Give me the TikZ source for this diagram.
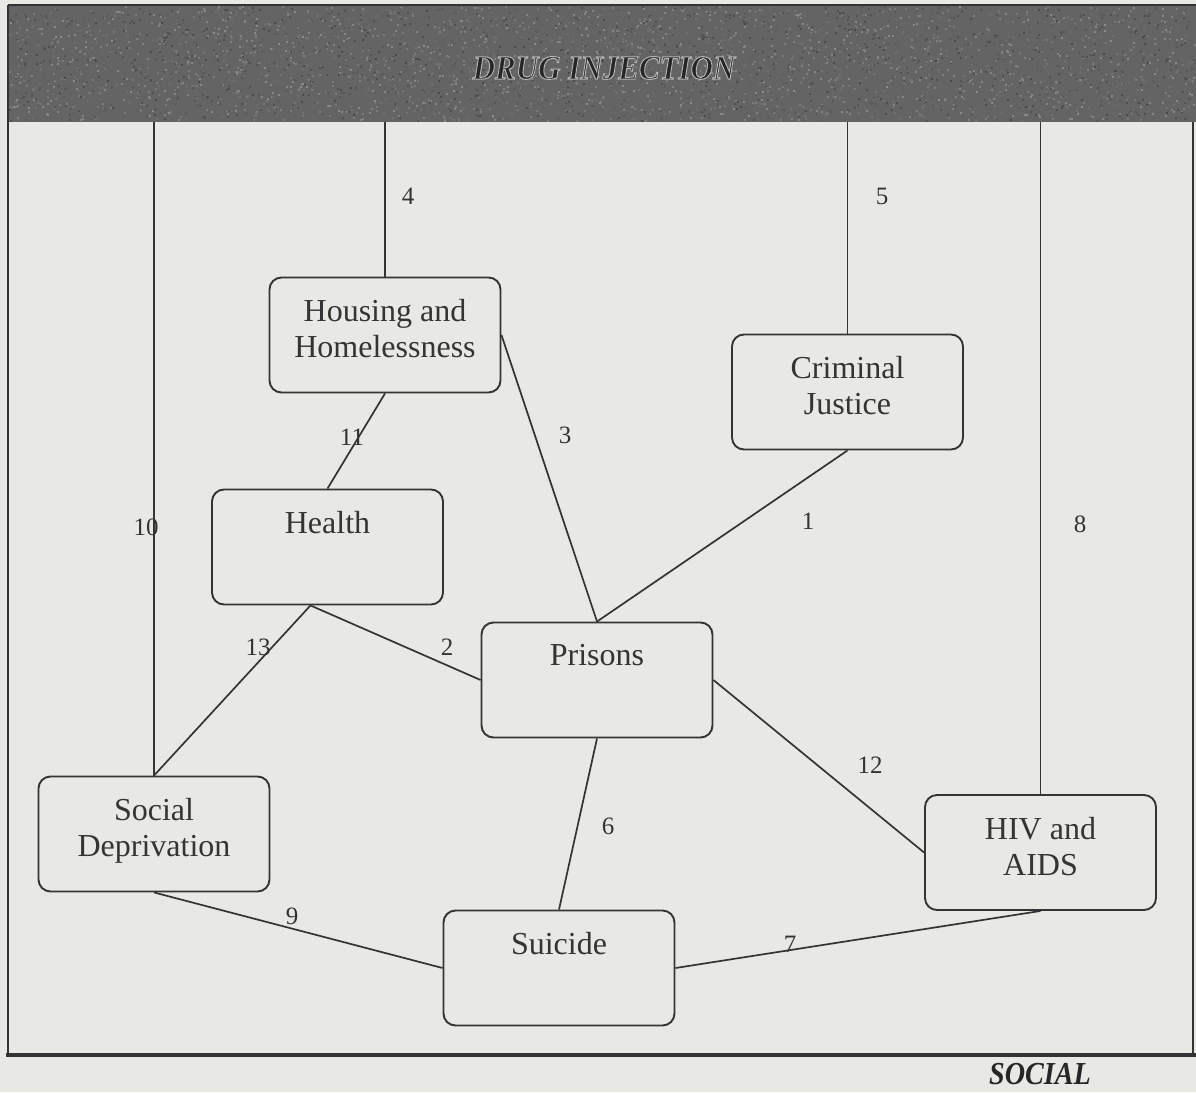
\documentclass[tikz,border=0pt]{standalone}
\usepackage{fontspec}
\setmainfont{Liberation Serif}
\usetikzlibrary{positioning}
\definecolor{paper}{RGB}{232,232,229}
\definecolor{ink}{RGB}{52,52,52}
\definecolor{band}{RGB}{100,100,100}
\newcommand{\haloed}[1]{\special{pdf:code q 2 Tr 0.9 w 0.72 G}#1\special{pdf:code Q}}
\begin{document}
\begin{tikzpicture}[
			x = 1pt, y = -1pt,
			box/.style={draw=ink, line width=1.9pt, rounded corners=12pt, minimum width=231pt, minimum height=115pt, inner sep=0pt},
			boxtext/.style={inner sep=0pt, align=center, text=ink, font=\fontsize{32}{36}\selectfont},
			lbl/.style={inner sep=0pt, text=ink, font=\fontsize{25}{28}\selectfont},
			link/.style={draw=ink, line width=1.7pt},
			title/.style={inner sep=0pt, font=\fontsize{31}{31}\selectfont\bfseries\itshape}
			]

			\useasboundingbox[fill=paper] (0,0) rectangle (1196,1092);

			% header band with scan grain
			\fill[band] (8,5) rectangle (1196,122);
			\pgfmathsetseed{11}
			\foreach \i in {1,...,4000}{
				\pgfmathsetmacro\nx{8+1186*rnd}
				\pgfmathsetmacro\ny{6+114*rnd}
				\pgfmathtruncatemacro\ng{46+26*rnd}
				\fill[black!\ng] (\nx,\ny) rectangle ++(2,2);
			}
			\draw[ink, line width=2pt] (8,5) -- (1196,5);
			\node[title, text=black!85, yscale=1.1] (title) at (604,68) {\haloed{DRUG INJECTION}};

			% frame
			\draw[ink, line width=1.6pt] (8,5) -- (8,1055);
			\draw[ink, line width=1.6pt] (1193,122) -- (1193,1055);
			\draw[ink, line width=3.5pt] (6,1055) -- (1196,1055);
			\node[title, text=black!85, font=\fontsize{32}{32}\selectfont\bfseries\itshape, xscale=0.88] (social) at (1040,1074) {SOCIAL};

			% boxes
			\node[box] (housing) at (385,335) {};
			\node[box] (cj) at (847.5,392) {};
			\node[box] (health) at (327.5,547) {};
			\node[box] (prisons) at (597,680) {};
			\node[box] (sd) at (154,834) {};
			\node[box] (hiv) at (1040.5,852.5) {};
			\node[box] (suicide) at (559,968) {};

			\node[boxtext, below=23pt of housing.north] (housingtxt) {Housing and\\Homelessness};
			\node[boxtext, below=23pt of cj.north] (cjtxt) {Criminal\\Justice};
			\node[boxtext, below=23pt of health.north] (healthtxt) {Health};
			\node[boxtext, below=23pt of prisons.north] (prisonstxt) {Prisons};
			\node[boxtext, below=23pt of sd.north] (sdtxt) {Social\\Deprivation};
			\node[boxtext, below=23pt of hiv.north] (hivtxt) {HIV and\\AIDS};
			\node[boxtext, below=23pt of suicide.north] (suicidetxt) {Suicide};

			% drops from the header
			\coordinate (d10) at (154,122);
			\coordinate (d4) at (385,122);
			\coordinate (d5) at (847.5,122);
			\coordinate (d8) at (1040.5,122);
			\coordinate (hfoot) at ([xshift=-17pt]health.south);

			\draw[link] (d4) -- (housing.north) node[lbl] (l4) at (408,196) {4};
			\draw[link] (d5) -- (cj.north) node[lbl] (l5) at (882,196) {5};
			\draw[link] (d10) -- (sd.north) node[lbl] (l10) at (146,527) {10};
			\draw[link] (d8) -- (hiv.north) node[lbl] (l8) at (1080,524) {8};

			\draw[link] (housing.south) -- (health.north) node[lbl] (l11) at (352,437) {11};
			\draw[link] (housing.east) -- (prisons.north) node[lbl] (l3) at (565,435) {3};
			\draw[link] (cj.south) -- (prisons.north) node[lbl] (l1) at (808,521) {1};
			\draw[link] (hfoot) -- (prisons.west) node[lbl] (l2) at (447,647) {2};
			\draw[link] (hfoot) -- (sd.north) node[lbl] (l13) at (258,647) {13};
			\draw[link] (prisons.east) -- (hiv.west) node[lbl] (l12) at (870,765) {12};
			\draw[link] (prisons.south) -- (suicide.north) node[lbl] (l6) at (608,826) {6};
			\draw[link] (sd.south) -- (suicide.west) node[lbl] (l9) at (292,916) {9};
			\draw[link] (hiv.south) -- (suicide.east) node[lbl] (l7) at (790,944) {7};

		\end{tikzpicture}
\end{document}
